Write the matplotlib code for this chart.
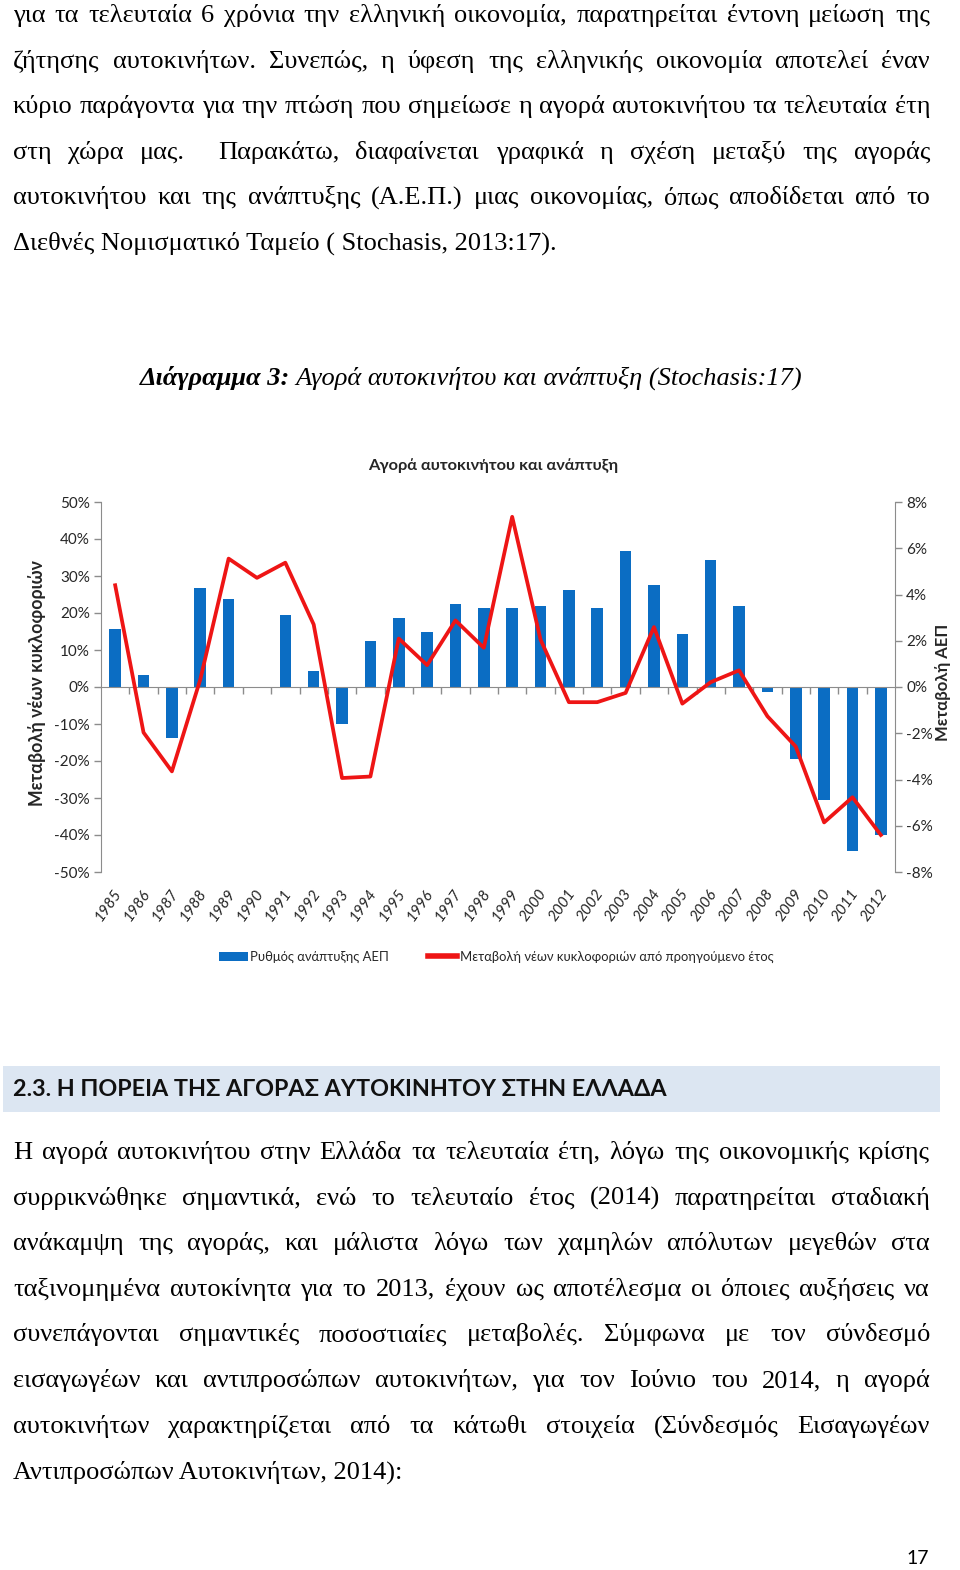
import matplotlib
matplotlib.use('Agg')
import matplotlib.pyplot as plt
from matplotlib.patches import Patch, Rectangle
from matplotlib.lines import Line2D
from matplotlib.transforms import blended_transform_factory
import numpy as np

# ---------------- data ----------------
years = list(range(1985, 2013))
gdp_growth = [2.5, 0.5, -2.2, 4.3, 3.8, 0.0, 3.1, 0.7, -1.6, 2.0, 3.0, 2.4, 3.6, 3.4,
              3.4, 3.5, 4.2, 3.4, 5.9, 4.4, 2.3, 5.5, 3.5, -0.2, -3.1, -4.9, -7.1, -6.4]
car_change = [27.5, -12.3, -22.8, 2.0, 34.7, 29.5, 33.6, 16.9, -24.6, -24.2, 13.1, 5.9, 18.0, 10.6,
              46.0, 12.8, -4.1, -4.1, -1.6, 16.2, -4.5, 1.3, 4.5, -7.9, -16.1, -36.6, -29.8, -40.0]
left_ticks = list(range(-50, 51, 10))
right_ticks = list(range(-8, 9, 2))

chart_title = 'Αγορά αυτοκινήτου και ανάπτυξη'
left_label = 'Μεταβολή νέων κυκλοφοριών'
right_label = 'Μεταβολή ΑΕΠ'
legend_labels = ['Ρυθμός ανάπτυξης ΑΕΠ', 'Μεταβολή νέων κυκλοφοριών από προηγούμενο έτος']

para1 = [
    'για τα τελευταία 6 χρόνια την ελληνική οικονομία, παρατηρείται έντονη μείωση της',
    'ζήτησης αυτοκινήτων. Συνεπώς, η ύφεση της ελληνικής οικονομία αποτελεί έναν',
    'κύριο παράγοντα για την πτώση που σημείωσε η αγορά αυτοκινήτου τα τελευταία έτη',
    'στη χώρα μας.  Παρακάτω, διαφαίνεται γραφικά η σχέση μεταξύ της αγοράς',
    'αυτοκινήτου και της ανάπτυξης (Α.Ε.Π.) μιας οικονομίας, όπως αποδίδεται από το',
    'Διεθνές Νομισματικό Ταμείο ( Stochasis, 2013:17).',
]
caption_bold = 'Διάγραμμα 3:'
caption_rest = ' Αγορά αυτοκινήτου και ανάπτυξη (Stochasis:17)'
heading = '2.3. Η ΠΟΡΕΙΑ ΤΗΣ ΑΓΟΡΑΣ ΑΥΤΟΚΙΝΗΤΟΥ ΣΤΗΝ ΕΛΛΑΔΑ'
para2 = [
    'Η αγορά αυτοκινήτου στην Ελλάδα τα τελευταία έτη, λόγω της οικονομικής κρίσης',
    'συρρικνώθηκε σημαντικά, ενώ το τελευταίο έτος (2014) παρατηρείται σταδιακή',
    'ανάκαμψη της αγοράς, και μάλιστα λόγω των χαμηλών απόλυτων μεγεθών στα',
    'ταξινομημένα αυτοκίνητα για το 2013, έχουν ως αποτέλεσμα οι όποιες αυξήσεις να',
    'συνεπάγονται σημαντικές ποσοστιαίες μεταβολές. Σύμφωνα με τον σύνδεσμό',
    'εισαγωγέων και αντιπροσώπων αυτοκινήτων, για τον Ιούνιο του 2014, η αγορά',
    'αυτοκινήτων χαρακτηρίζεται από τα κάτωθι στοιχεία (Σύνδεσμός Εισαγωγέων',
    'Αντιπροσώπων Αυτοκινήτων, 2014):',
]
page_number = '17'

# ---------------- page ----------------
W, H = 960, 1570
fig = plt.figure(figsize=(W / 100, H / 100), dpi=100)
fig.patch.set_facecolor('white')

def fx(x):
    return x / W

def fy(y):
    return 1 - y / H

SERIF = ['Liberation Serif', 'DejaVu Serif']
SANS = ['Lato', 'DejaVu Sans']
BODY = 19
renderer = fig.canvas.get_renderer()

def text_line(s, y, justify=True, x0=13, x1=930):
    if not justify:
        fig.text(fx(x0), fy(y), s, fontsize=BODY, family=SERIF, va='baseline', ha='left', color='black')
        return
    words = s.split(' ')
    ts, widths = [], []
    for w in words:
        if w:
            t = fig.text(0, fy(y), w, fontsize=BODY, family=SERIF, va='baseline', ha='left', color='black')
            ts.append(t)
            widths.append(t.get_window_extent(renderer).width)
        else:
            ts.append(None)
            widths.append(0.0)
    gap = (x1 - x0 - sum(widths)) / max(len(words) - 1, 1)
    x = x0
    for t, wd in zip(ts, widths):
        if t is not None:
            t.set_x(fx(x))
        x += wd + gap

y0 = 22
for i, line in enumerate(para1):
    text_line(line, y0 + i * 45.6, justify=(i < len(para1) - 1))

# caption
cb = fig.text(0, fy(385), caption_bold, fontsize=BODY, family=SERIF, style='italic',
              fontweight='bold', va='baseline', ha='left')
cr = fig.text(0, fy(385), caption_rest, fontsize=BODY, family=SERIF, style='italic',
              va='baseline', ha='left')
wb = cb.get_window_extent(renderer).width
wr = cr.get_window_extent(renderer).width
cx0 = 471 - (wb + wr) / 2
cb.set_x(fx(cx0))
cr.set_x(fx(cx0 + wb))

# heading box
fig.patches.append(Rectangle((fx(3), fy(1112)), fx(937), (1112 - 1066) / H,
                             transform=fig.transFigure, facecolor='#DCE6F2', edgecolor='none'))
fig.text(fx(13), fy(1089), heading, fontsize=16.8, family=SANS, fontweight='bold',
         va='center', ha='left', color='#111111')

y2 = 1159
for i, line in enumerate(para2):
    text_line(line, y2 + i * 45.6, justify=(i < len(para2) - 1))

fig.text(fx(929), fy(1564), page_number, fontsize=14, family=SANS, ha='right', va='baseline')

# ---------------- chart ----------------
BLUE = '#0B6DC3'
RED = '#EE1515'
GRAY = '#8C8C8C'
TXT = '#262626'

ax = fig.add_axes([fx(101), fy(872), fx(895 - 101), (872 - 502) / H])
ax2 = ax.twinx()
xpos = np.arange(len(years))

ax2.bar(xpos, gdp_growth, width=0.41, color=BLUE, zorder=2)
ax.plot(xpos, car_change, color=RED, lw=2.7, zorder=3)
ax.set_zorder(ax2.get_zorder() + 1)
ax.patch.set_visible(False)

ax.set_xlim(-0.5, len(years) - 0.5)
ax.set_ylim(-50, 50)
ax2.set_ylim(-8, 8)

ax.set_yticks(left_ticks)
ax.set_yticklabels([f'{v}%' for v in left_ticks])
ax2.set_yticks(right_ticks)
ax2.set_yticklabels([f'{v}%' for v in right_ticks])

ax.set_xticks([])
ax.set_xticks(np.arange(0.5, len(years) - 0.5, 1), minor=True)
ax.tick_params(axis='x', which='minor', length=5, width=1, color=GRAY, direction='out')
ax.tick_params(axis='y', length=5, width=1, color=GRAY, labelsize=11, labelcolor=TXT, pad=3)
ax2.tick_params(axis='y', length=5, width=1, color=GRAY, labelsize=11, labelcolor=TXT, pad=3)
for lab in ax.get_yticklabels() + ax2.get_yticklabels():
    lab.set_family(SANS)

for s in ['top', 'right']:
    ax.spines[s].set_visible(False)
ax.spines['bottom'].set_position(('data', 0))
ax.spines['bottom'].set_color(GRAY)
ax.spines['left'].set_color(GRAY)
for s in ['top', 'left', 'bottom']:
    ax2.spines[s].set_visible(False)
ax2.spines['right'].set_color(GRAY)

trans = blended_transform_factory(ax.transData, ax.transAxes)
for i, yr in enumerate(years):
    ax.text(i - 0.08, -0.04, str(yr), transform=trans, rotation=55, ha='right', va='top',
            rotation_mode='anchor', style='italic', fontsize=11, family=SANS, color=TXT)

fig.text(fx(493), fy(466), chart_title, ha='center', va='center', fontsize=11.8,
         fontweight='bold', family=SANS, color=TXT)
fig.text(fx(37), fy(683), left_label, rotation=90, ha='center', va='center', fontsize=12.8,
         fontweight='bold', family=SANS, color=TXT)
fig.text(fx(943), fy(682), right_label, rotation=90, ha='center', va='center', fontsize=12,
         fontweight='bold', family=SANS, color=TXT)

handles = [Patch(facecolor=BLUE, edgecolor='none'), Line2D([0], [0], color=RED, lw=4)]
fig.legend(handles, legend_labels, loc='center', bbox_to_anchor=(fx(496), fy(957)), ncol=2,
           frameon=False, prop={'family': SANS, 'size': 9.4}, handlelength=2.2,
           handletextpad=0.2, columnspacing=3.0, labelcolor=TXT)

fig.savefig('out.png', dpi=100, facecolor='white')
